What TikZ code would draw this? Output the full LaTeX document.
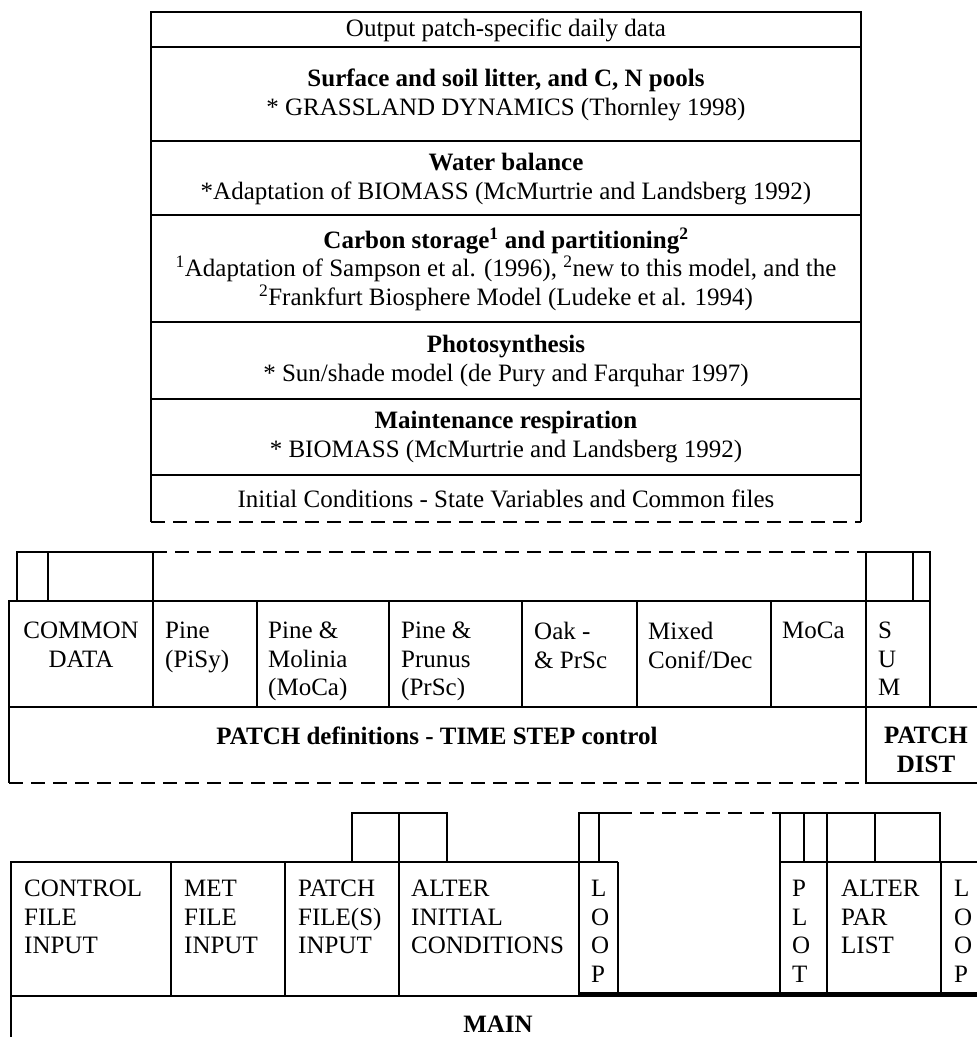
\documentclass[tikz,border=0pt]{standalone}
\usepackage{fontspec}
\setmainfont{Liberation Serif}
\usetikzlibrary{positioning}
\tikzset{
  frame/.style={draw=black, line width=1.8pt},
  dashline/.style={draw=black, line width=1.8pt, dash pattern=on 14pt off 8pt},
  heavyline/.style={draw=black, line width=5pt},
  blocktext/.style={align=center, font=\fontsize{25}{28.5}\selectfont, inner sep=0pt},
  celltext/.style={anchor=north west, align=left, font=\fontsize{25}{28.5}\selectfont, inner sep=0pt},
  boldtext/.style={blocktext, font=\fontsize{25}{28.5}\selectfont\bfseries}
}

\begin{document}
\begin{tikzpicture}[x=1pt,y=-1pt]
  \useasboundingbox (0,0) rectangle (977,1037);
  \clip (0,0) rectangle (977,1037);

  % model layers
  \draw[frame] (151,522) -- (151,12) -- (861,12) -- (861,522);
  \draw[dashline] (151,522) -- (861,522);
  \foreach \y in {47,141,215,322,399,475}
    \draw[frame] (151,\y) -- (861,\y);
  \node[blocktext] (output) at (506,30) {Output patch-specific daily data};
  \node[blocktext] (litter) at (506,95) {\textbf{Surface and soil litter, and C, N pools}\\* GRASSLAND DYNAMICS (Thornley 1998)};
  \node[blocktext] (water) at (506,179) {\textbf{Water balance}\\*Adaptation of BIOMASS (McMurtrie and Landsberg 1992)};
  \node[blocktext] (carbon) at (506,269) {\textbf{Carbon storage\textsuperscript{1} and partitioning\textsuperscript{2}}\\\textsuperscript{1}Adaptation of Sampson et al. (1996), \textsuperscript{2}new to this model, and the\\\textsuperscript{2}Frankfurt Biosphere Model (Ludeke et al. 1994)};
  \node[blocktext] (photo) at (506,361) {\textbf{Photosynthesis}\\* Sun/shade model (de Pury and Farquhar 1997)};
  \node[blocktext] (resp) at (506,437) {\textbf{Maintenance respiration}\\* BIOMASS (McMurtrie and Landsberg 1992)};
  \node[blocktext] (initial) at (506,499) {Initial Conditions - State Variables and Common files};

  % patch level
  \draw[frame] (17,552) rectangle (48,601);
  \draw[frame] (48,552) rectangle (153,601);
  \draw[dashline] (153,552) -- (866,552);
  \draw[frame] (866,552) rectangle (913,601);
  \draw[frame] (913,552) rectangle (930,601);
  \draw[frame] (9,601) rectangle (930,707);
  \foreach \x in {153,257,389,522,637,771,866}
    \draw[frame] (\x,601) -- (\x,707);
  \draw[frame] (9,707) -- (9,783);
  \draw[frame] (9,707) -- (990,707);
  \draw[dashline] (9,783) -- (866,783);
  \draw[frame] (866,707) rectangle (990,783);
  \node[celltext, align=center, anchor=north] (common) at (81,622) {COMMON\\DATA};
  \node[celltext] (pisy) at (165,622) {Pine\\(PiSy)};
  \node[celltext] (moca) at (268,622) {Pine \&\\Molinia\\(MoCa)};
  \node[celltext] (prsc) at (401,622) {Pine \&\\Prunus\\(PrSc)};
  \node[celltext] (oak) at (534,622) {Oak -\\\& PrSc};
  \node[celltext] (mixed) at (648,622) {Mixed\\Conif/Dec};
  \node[celltext] (mocb) at (782,622) {MoCa};
  \node[celltext] (sum) at (878,622) {S\\U\\M};
  \node[boldtext] (patchdef) at (437,736) {PATCH definitions - TIME STEP control};
  \node[boldtext] (patchdist) at (926,750) {PATCH\\DIST};

  % main program
  \draw[frame] (352,862) -- (352,813) -- (447,813) -- (447,862);
  \draw[frame] (399,813) -- (399,862);
  \draw[frame] (579,862) -- (579,813) -- (618,813);
  \draw[frame] (599,813) -- (599,862);
  \draw[dashline] (618,813) -- (780,813);
  \draw[frame] (780,862) -- (780,813) -- (940,813) -- (940,862);
  \foreach \x in {804,827,875}
    \draw[frame] (\x,813) -- (\x,862);
  \draw[frame] (11,1045) -- (11,862) -- (618,862);
  \draw[frame] (780,862) -- (990,862);
  \foreach \x in {171,285,399,579,618,780,827,941}
    \draw[frame] (\x,862) -- (\x,995);
  \draw[frame] (11,996) -- (579,996);
  \draw[heavyline] (579,994) -- (990,994);
  \node[celltext] (control) at (24,880) {CONTROL\\FILE\\INPUT};
  \node[celltext] (met) at (184,880) {MET\\FILE\\INPUT};
  \node[celltext] (patchfile) at (298,880) {PATCH\\FILE(S)\\INPUT};
  \node[celltext] (alterinit) at (411,880) {ALTER\\INITIAL\\CONDITIONS};
  \node[celltext] (loopa) at (591,880) {L\\O\\O\\P};
  \node[celltext] (plot) at (792,880) {P\\L\\O\\T};
  \node[celltext] (alterpar) at (841,880) {ALTER\\PAR\\LIST};
  \node[celltext] (loopb) at (954,880) {L\\O\\O\\P};
  \node[boldtext] (main) at (498,1024) {MAIN};
\end{tikzpicture}
\end{document}
